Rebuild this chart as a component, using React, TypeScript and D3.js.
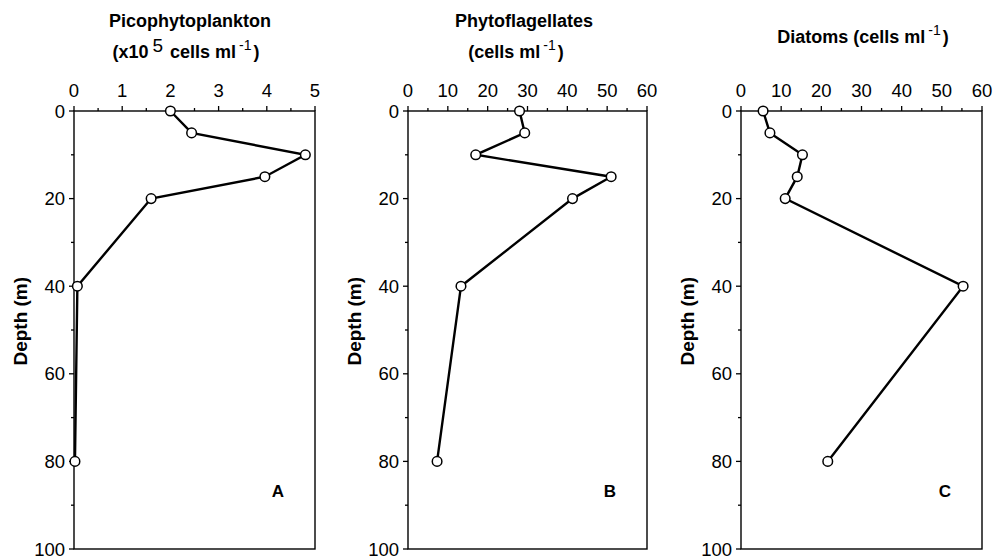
import React from 'react';
import * as d3 from 'd3';

// depth (m) of each sample, shared by all three panels
const depths = [0, 5, 10, 15, 20, 40, 80];

// panel A, x10^5 cells ml-1
const pico = [2.0, 2.44, 4.8, 3.96, 1.6, 0.07, 0.02];
// panel B, cells ml-1
const flag = [28, 29.3, 17, 51, 41.3, 13.3, 7.3];
// panel C, cells ml-1
const diatoms = [5.5, 7.2, 15.3, 14, 11, 55.3, 21.6];

const depthTicks = [0, 20, 40, 60, 80, 100];
const depthMinor = [10, 30, 50, 70, 90];

const W = 1005;
const H = 558;
const FONT = 'Liberation Sans, Arial, Helvetica, sans-serif';
const TITLE = 18;

const panels = [
  { key: 'A', values: pico, max: 5, major: [0, 1, 2, 3, 4, 5], minorStep: 0.5, x0: 74, x1: 315, titleX: 190 },
  { key: 'B', values: flag, max: 60, major: [0, 10, 20, 30, 40, 50, 60], minorStep: 5, x0: 408, x1: 647, titleX: 524 },
  { key: 'C', values: diatoms, max: 60, major: [0, 10, 20, 30, 40, 50, 60], minorStep: 5, x0: 741, x1: 982, titleX: 863 },
];

const yScale = d3.scaleLinear().domain([0, 100]).range([111, 549]);

function Panel({ p }) {
  const x = d3.scaleLinear().domain([0, p.max]).range([p.x0, p.x1]);
  const minor = d3.range(0, p.max + 1e-9, p.minorStep).filter(v => !p.major.includes(v));
  const pts = depths.map((d, i) => [x(p.values[i]), yScale(d)] as [number, number]);
  const path = d3.line()(pts);
  const top = yScale(0);
  const bot = yScale(100);
  return (
    <g>
      {/* frame */}
      <rect x={p.x0} y={top} width={p.x1 - p.x0} height={bot - top} fill="none" stroke="#000" strokeWidth={1.4} />
      {/* top axis ticks */}
      {p.major.map(v => (
        <g key={'mx' + v}>
          <line x1={x(v)} x2={x(v)} y1={top} y2={top - 5} stroke="#000" strokeWidth={1.3} />
          <text x={x(v)} y={97} textAnchor="middle" fontSize={18.5} fontFamily={FONT}>{v}</text>
        </g>
      ))}
      {minor.map(v => (
        <line key={'nx' + v} x1={x(v)} x2={x(v)} y1={top} y2={top - 3} stroke="#000" strokeWidth={1.3} />
      ))}
      {/* left axis ticks */}
      {depthTicks.map(v => (
        <g key={'my' + v}>
          <line x1={p.x0} x2={p.x0 - 5} y1={yScale(v)} y2={yScale(v)} stroke="#000" strokeWidth={1.3} />
          <text x={p.x0 - 9} y={yScale(v) + 6.5} textAnchor="end" fontSize={18.5} fontFamily={FONT}>{v}</text>
        </g>
      ))}
      {depthMinor.map(v => (
        <line key={'ny' + v} x1={p.x0} x2={p.x0 - 3} y1={yScale(v)} y2={yScale(v)} stroke="#000" strokeWidth={1.3} />
      ))}
      <text
        transform={`translate(${p.x0 - 47},${yScale(48)}) rotate(-90)`}
        textAnchor="middle" fontSize={19} fontWeight="bold" fontFamily={FONT}>Depth (m)</text>
      {/* profile */}
      <path d={path} fill="none" stroke="#000" strokeWidth={2.4} />
      {pts.map(([cx, cy], i) => (
        <circle key={i} cx={cx} cy={cy} r={4.8} fill="#fff" stroke="#000" strokeWidth={1.5} />
      ))}
      <text x={p.x1 - 37} y={497} textAnchor="middle" fontSize={17} fontWeight="bold" fontFamily={FONT}>{p.key}</text>
    </g>
  );
}

function Unit({ x, y }) {
  return (
    <text x={x} y={y} textAnchor="middle" fontSize={TITLE} fontWeight="bold" fontFamily={FONT}>
      (cells ml<tspan dx={3} dy={-8} fontSize={14} fontWeight="normal">-1</tspan><tspan dx={2} dy={8}>)</tspan>
    </text>
  );
}

export default function App() {
  return (
    <svg width={W} height={H} style={{ position: 'absolute', left: 0, top: 0, background: '#fff' }}>
      {panels.map(p => <Panel key={p.key} p={p} />)}
      {/* titles */}
      <text x={panels[0].titleX} y={27} textAnchor="middle" fontSize={TITLE} fontWeight="bold" fontFamily={FONT}>Picophytoplankton</text>
      <text x={panels[0].titleX - 4} y={58} textAnchor="middle" fontSize={TITLE} fontWeight="bold" fontFamily={FONT}>
        (x10<tspan dx={4} dy={-6} fontSize={19} fontWeight="normal">5</tspan>
        <tspan dx={7} dy={6}>cells ml</tspan>
        <tspan dx={3} dy={-8} fontSize={14} fontWeight="normal">-1</tspan>
        <tspan dx={2} dy={8}>)</tspan>
      </text>
      <text x={panels[1].titleX} y={27} textAnchor="middle" fontSize={TITLE} fontWeight="bold" fontFamily={FONT}>Phytoflagellates</text>
      <Unit x={panels[1].titleX - 8} y={58} />
      <text x={panels[2].titleX} y={43} textAnchor="middle" fontSize={TITLE} fontWeight="bold" fontFamily={FONT}>
        Diatoms (cells ml<tspan dx={3} dy={-8} fontSize={14} fontWeight="normal">-1</tspan><tspan dx={2} dy={8}>)</tspan>
      </text>
    </svg>
  );
}
